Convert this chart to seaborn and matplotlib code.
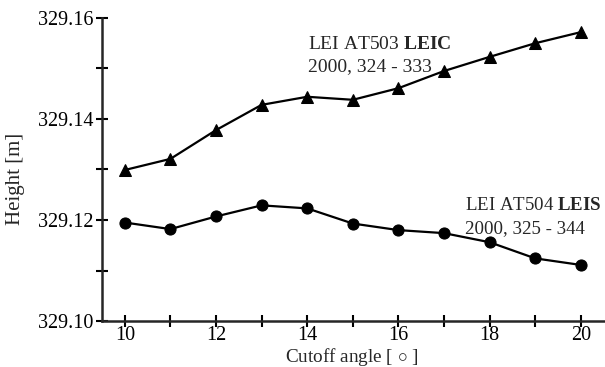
import matplotlib
matplotlib.use("Agg")
import matplotlib.pyplot as plt
import seaborn as sns
import pandas as pd
from matplotlib.ticker import MultipleLocator, FixedLocator

angles = [10, 11, 12, 13, 14, 15, 16, 17, 18, 19, 20]
leic_height = [329.1299, 329.1321, 329.1378, 329.1428, 329.1444, 329.1438,
               329.1461, 329.1495, 329.1523, 329.1550, 329.1572]
leis_height = [329.1195, 329.1182, 329.1207, 329.1229, 329.1223, 329.1193,
               329.1180, 329.1174, 329.1156, 329.1124, 329.1111]
series_names = ["LEIC", "LEIS"]
ytick_labels = ["329.10", "329.12", "329.14", "329.16"]
xtick_labels = ["10", "12", "14", "16", "18", "20"]

df = pd.DataFrame({
    "angle": angles * 2,
    "height": leic_height + leis_height,
    "antenna": [series_names[0]] * len(angles) + [series_names[1]] * len(angles),
})

sns.set_style("ticks")
plt.rcParams["font.family"] = ["Liberation Serif", "DejaVu Serif"]
plt.rcParams["mathtext.fontset"] = "custom"
plt.rcParams["mathtext.rm"] = "Liberation Serif"
plt.rcParams["mathtext.bf"] = "Liberation Serif:bold"
plt.rcParams["mathtext.it"] = "Liberation Serif:italic"

fig = plt.figure(figsize=(6.05, 3.67), dpi=100)
ax = fig.add_axes([0.1686, 0.1253, 0.8314, 0.8257])

sns.lineplot(data=df, x="angle", y="height", style="antenna",
             markers=["^", "o"], dashes=False, color="black",
             linewidth=1.6, markersize=8, markeredgecolor="black",
             legend=False, ax=ax)

ax.set_xlim(9.5, 20.53)
ax.set_ylim(329.10, 329.16)
ax.xaxis.set_major_locator(FixedLocator([10, 12, 14, 16, 18, 20]))
ax.set_xticklabels(xtick_labels)
ax.xaxis.set_minor_locator(MultipleLocator(1))
ax.yaxis.set_major_locator(FixedLocator([329.10, 329.12, 329.14, 329.16]))
ax.set_yticklabels(ytick_labels)
ax.yaxis.set_minor_locator(MultipleLocator(0.01))

for sp in ["top", "right"]:
    ax.spines[sp].set_visible(False)
for sp in ["left", "bottom"]:
    ax.spines[sp].set_linewidth(1.8)
ax.tick_params(which="both", direction="inout", width=1.5, colors="black",
               labelsize=14.5)
ax.tick_params(which="major", length=8)
ax.tick_params(which="minor", length=8)
ax.tick_params(axis="y", pad=2)
ax.tick_params(axis="x", pad=-0.5)

ax.set_xlabel("Cutoff angle [ $\\circ$ ]", fontsize=13.8)
ax.xaxis.set_label_coords(0.497, -0.084)
ax.set_ylabel("Height [m]", fontsize=15)
ax.yaxis.set_label_coords(-0.153, 0.469)

fs = 14
ax.text(14.01, 329.1539, "LEI AT503 $\\mathbf{LEIC}$", fontsize=fs, va="baseline")
ax.text(14.01, 329.1495, "2000, 324 - 333", fontsize=fs, va="baseline")
ax.text(17.46, 329.1220, "LEI AT504 $\\mathbf{LEIS}$", fontsize=13.6, va="baseline")
ax.text(17.46, 329.1174, "2000, 325 - 344", fontsize=13.6, va="baseline")

fig.savefig("out.png", dpi=100)
